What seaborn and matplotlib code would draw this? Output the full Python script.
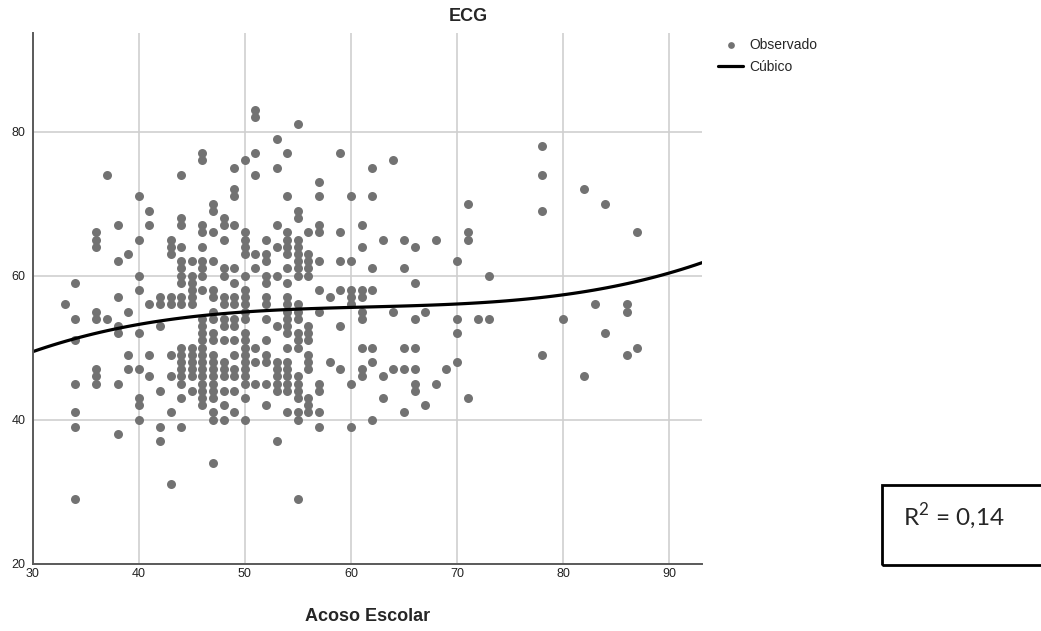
import numpy as np
import pandas as pd
import matplotlib
matplotlib.use("Agg")
import matplotlib.pyplot as plt
import seaborn as sns
from matplotlib.patches import Rectangle

acoso_levels = [33, 34, 36, 37, 38, 39, 40, 41, 42, 43, 44, 45, 46, 47, 48, 49, 50,
                51, 52, 53, 54, 55, 56, 57, 58, 59, 60, 61, 62, 63, 64, 65, 66, 67,
                68, 69, 70, 71, 72, 73, 78, 80, 82, 83, 84, 86, 87]
ecg_at_level = [
    [56],
    [59, 54, 51, 45, 41, 39, 29],
    [66, 65, 64, 55, 54, 47, 46, 45],
    [74, 54],
    [67, 62, 57, 53, 52, 45, 38],
    [63, 55, 49, 47],
    [71, 65, 60, 58, 52, 47, 43, 42, 40],
    [69, 67, 56, 49, 46],
    [57, 56, 53, 44, 39, 37],
    [65, 64, 63, 57, 56, 49, 46, 41, 31],
    [74, 68, 67, 64, 62, 61, 60, 59, 57, 56, 50, 49, 48, 47, 46, 45, 43, 39],
    [62, 60, 59, 58, 57, 56, 50, 49, 48, 47, 46, 44],
    [77, 76, 67, 66, 64, 62, 61, 60, 58, 54, 53, 52, 51, 50, 49, 48, 47, 46, 45, 44, 43, 42],
    [70, 69, 66, 62, 58, 57, 55, 54, 52, 51, 49, 48, 47, 46, 45, 44, 43, 41, 40, 34],
    [68, 67, 65, 61, 60, 57, 56, 54, 53, 51, 48, 47, 46, 44, 42, 40],
    [75, 72, 71, 67, 61, 59, 57, 56, 54, 53, 51, 49, 47, 46, 44, 41],
    [76, 66, 65, 64, 63, 60, 58, 57, 56, 55, 54, 52, 51, 50, 49, 48, 47, 46, 45, 43, 40],
    [83, 82, 77, 74, 63, 61, 50, 48, 45],
    [65, 63, 62, 60, 59, 57, 56, 54, 51, 49, 48, 45, 42],
    [79, 75, 67, 64, 60, 53, 48, 47, 46, 45, 44, 37],
    [77, 71, 66, 65, 64, 63, 61, 59, 57, 56, 55, 54, 53, 52, 50, 48, 47, 46, 45, 44, 41],
    [81, 69, 68, 65, 64, 63, 62, 61, 60, 56, 55, 54, 52, 51, 50, 46, 45, 44, 43, 41, 40, 29],
    [66, 63, 62, 61, 60, 53, 52, 51, 49, 48, 47, 43, 42, 41],
    [73, 71, 67, 66, 62, 58, 55, 45, 44, 41, 39],
    [57, 48],
    [77, 66, 62, 58, 53, 47],
    [71, 62, 58, 57, 56, 45, 39],
    [67, 64, 58, 57, 55, 54, 50, 47, 46],
    [75, 71, 61, 58, 50, 48, 40],
    [65, 46, 43],
    [76, 55, 47],
    [65, 61, 50, 47, 41],
    [64, 59, 54, 50, 47, 45, 44],
    [55, 42],
    [65, 45],
    [47],
    [62, 54, 52, 48],
    [70, 66, 65, 43],
    [54],
    [60, 54],
    [78, 74, 69, 49],
    [54],
    [72, 46],
    [56],
    [70, 52],
    [56, 55, 49],
    [66, 50],
]

x_ticks = [30, 40, 50, 60, 70, 80, 90]
y_ticks = [20, 40, 60, 80]

rows = [(a, e) for a, ys in zip(acoso_levels, ecg_at_level) for e in ys]
df = pd.DataFrame(rows, columns=["Acoso Escolar", "ECG"])

sns.set_style("white")
plt.rcParams["font.family"] = ["Liberation Sans", "DejaVu Sans"]
plt.rcParams["mathtext.fontset"] = "custom"
plt.rcParams["mathtext.rm"] = "Lato"

W, H = 1041, 631
fig = plt.figure(figsize=(W / 100, H / 100), dpi=100)
ax = fig.add_axes([32.7 / W, 1 - 563.7 / H, (702 - 32.7) / W, (563.7 - 33) / H])

ax.set_xlim(30, 93.1)
ax.set_ylim(20, 93.7)

sns.regplot(data=df, x="Acoso Escolar", y="ECG", order=3, ci=None, truncate=False,
            ax=ax, label="Observado",
            scatter_kws={"color": "#727272", "s": 42, "linewidths": 0, "alpha": 1},
            line_kws={"color": "black", "lw": 2.3, "label": "Cúbico"})

ax.set_xticks(x_ticks)
ax.set_yticks(y_ticks)
ax.tick_params(length=0, labelsize=9, colors="#222222")
ax.tick_params(axis="x", pad=3)
ax.tick_params(axis="y", pad=5)
ax.grid(True, color="#cfcfcf", lw=1.2)
ax.set_axisbelow(True)
for side in ["top", "right"]:
    ax.spines[side].set_visible(False)
for side in ["left", "bottom"]:
    ax.spines[side].set_color("#5a5a5a")
    ax.spines[side].set_linewidth(1.4)

ax.set_ylabel("")
ax.set_xlabel("Acoso Escolar", fontsize=13, fontweight="bold", va="top")
ax.xaxis.set_label_coords(0.5, -0.083)

fig.text(468 / W, 1 - 16.7 / H, "ECG", ha="center", va="center",
         fontsize=13, fontweight="bold")

ax.legend(loc="upper left", bbox_to_anchor=(718 / W, 1 - 38 / H),
          bbox_transform=fig.transFigure, frameon=False, fontsize=10,
          handlelength=1.8, handletextpad=0.45, labelspacing=0.6,
          borderpad=0, borderaxespad=0, markerscale=0.75)

# R² annotation box
fig.add_artist(Rectangle((881.7 / W, 1 - 565 / H), 0.2, 80 / H,
                         transform=fig.transFigure, fill=False, lw=2, ec="black"))
fig.text(903 / W, 1 - 517 / H, r"R$^{\mathrm{2}}$ = 0,14", ha="left", va="center",
         fontsize=17.5, family=["Lato", "DejaVu Sans"])

fig.savefig("out.png", dpi=100)
